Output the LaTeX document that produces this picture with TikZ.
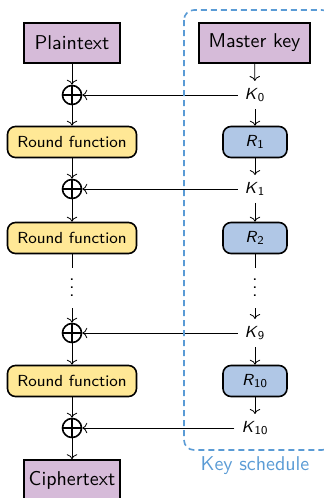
\documentclass[tikz,border=0pt]{standalone}
\usetikzlibrary{arrows.meta}
\definecolor{boxpurple}{RGB}{214,187,217}
\definecolor{boxyellow}{RGB}{255,232,150}
\definecolor{boxblue}{RGB}{176,199,230}
\definecolor{schedblue}{RGB}{90,155,213}
\newcommand\subk[2]{\textit{#1}\textsubscript{#2}}
\newcommand\mydots{\vbox{\baselineskip4pt\lineskiplimit0pt\hbox{.}\hbox{.}\hbox{.}}}
\begin{document}
\begin{tikzpicture}[x=0.5pt,y=-0.5pt, font=\sffamily,
 io/.style={draw,thick,fill=boxpurple,minimum width=48pt,minimum height=20pt,inner sep=0pt},
 rf/.style={draw,thick,fill=boxyellow,rounded corners=4pt,minimum width=64.5pt,minimum height=15.5pt,font=\sffamily\footnotesize,inner sep=0pt},
 rk/.style={draw,thick,fill=boxblue,rounded corners=4pt,minimum width=32pt,minimum height=15.5pt,font=\sffamily\footnotesize,inner sep=0pt},
 xo/.style={circle,draw,thick,minimum size=9.5pt,inner sep=0pt,
   path picture={\draw[thick] (path picture bounding box.north) -- (path picture bounding box.south)
     (path picture bounding box.west) -- (path picture bounding box.east);}},
 kl/.style={font=\sffamily\footnotesize},
 dd/.style={minimum height=20pt,inner sep=0pt},
 conn/.style={->}]
\useasboundingbox (0,0) rectangle (324,498);
% left column
\node[io] (pt) at (72,43) {Plaintext};
\node[xo] (x0) at (72,95) {};
\node[rf] (rf1) at (72,142) {Round function};
\node[xo] (x1) at (72,189) {};
\node[rf] (rf2) at (72,238) {Round function};
\node[dd] (ld) at (72,288) {\mydots};
\node[xo] (x2) at (72,333) {};
\node[rf] (rf3) at (72,381) {Round function};
\node[xo] (x3) at (72,428) {};
\node[io] (ct) at (72,480) {Ciphertext};
% right column
\node[io,minimum width=55.5pt] (mk) at (254.5,43) {Master key};
\node[kl] (k0) at (255,95) {\subk{K}{0}};
\node[rk] (r1) at (255,142) {\subk{R}{1}};
\node[kl] (k1) at (255,189) {\subk{K}{1}};
\node[rk] (r2) at (255,238) {\subk{R}{2}};
\node[dd] (rd) at (255,288) {\mydots};
\node[kl] (k9) at (255,333) {\subk{K}{9}};
\node[rk] (r10) at (255,381) {\subk{R}{10}};
\node[kl] (k10) at (255,428) {\subk{K}{10}};
% connectors left
\draw[conn] (pt) -- (x0);
\draw[conn] (x0) -- (rf1);
\draw[conn] (rf1) -- (x1);
\draw[conn] (x1) -- (rf2);
\draw (rf2) -- (ld);
\draw[conn] (ld) -- (x2);
\draw[conn] (x2) -- (rf3);
\draw[conn] (rf3) -- (x3);
\draw[conn] (x3) -- (ct);
% connectors right
\draw[conn] (mk) -- (k0);
\draw[conn] (k0) -- (r1);
\draw[conn] (r1) -- (k1);
\draw[conn] (k1) -- (r2);
\draw (r2) -- (rd);
\draw[conn] (rd) -- (k9);
\draw[conn] (k9) -- (r10);
\draw[conn] (r10) -- (k10);
% key additions
\draw[conn] (k0) -- (x0);
\draw[conn] (k1) -- (x1);
\draw[conn] (k9) -- (x2);
\draw[conn] (k10) -- (x3);
% key schedule frame
\draw[schedblue,thick,dash pattern=on 3pt off 2pt,rounded corners=5pt] (184,10) rectangle (332,450);
\node[text=schedblue] (ks) at (255,466) {Key schedule};
\end{tikzpicture}
\end{document}
